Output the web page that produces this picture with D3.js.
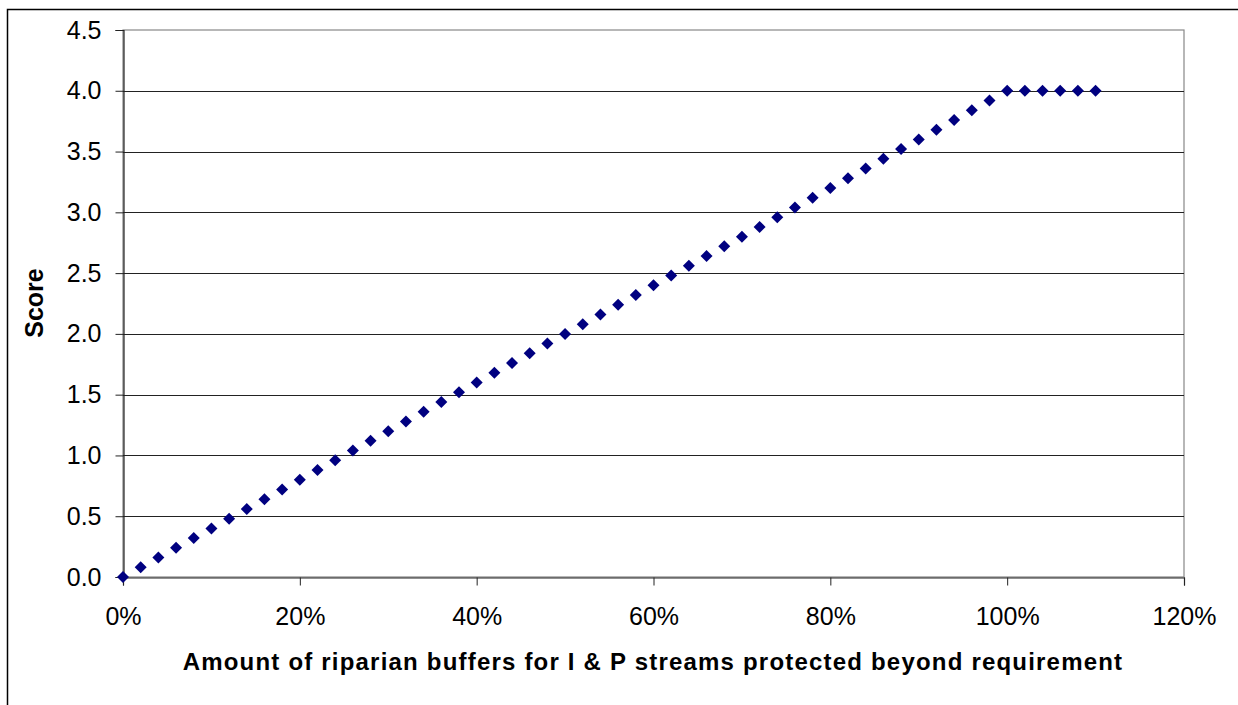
<!DOCTYPE html>
<html><head><meta charset="utf-8">
<script src="https://cdn.jsdelivr.net/npm/d3@7"></script>
<style>body{margin:0;background:#fff}svg{display:block}text{font-family:Arial,"Liberation Sans",sans-serif}</style>
</head><body><svg id="c" width="1238" height="705"></svg>
<script>
const xPct = [0,2,4,6,8,10,12,14,16,18,20,22,24,26,28,30,32,34,36,38,40,42,44,46,48,50,52,54,56,58,60,62,64,66,68,70,72,74,76,78,80,82,84,86,88,90,92,94,96,98,100,102,104,106,108,110];
const score = [0,0.08,0.16,0.24,0.32,0.40,0.48,0.56,0.64,0.72,0.80,0.88,0.96,1.04,1.12,1.20,1.28,1.36,1.44,1.52,1.60,1.68,1.76,1.84,1.92,2.00,2.08,2.16,2.24,2.32,2.40,2.48,2.56,2.64,2.72,2.80,2.88,2.96,3.04,3.12,3.20,3.28,3.36,3.44,3.52,3.60,3.68,3.76,3.84,3.92,4.00,4.00,4.00,4.00,4.00,4.00];
const yTicks = [0,0.5,1.0,1.5,2.0,2.5,3.0,3.5,4.0,4.5];
const xTicks = [0,20,40,60,80,100,120];
const xTitle = "Amount of riparian buffers for I & P streams protected beyond requirement";
const yTitle = "Score";

const svg = d3.select("#c");
const L=123, R=1184, T=30, B=577;
const x = d3.scaleLinear().domain([0,120]).range([L,R]);
const y = d3.scaleLinear().domain([0,4.5]).range([B,T]);
const FF = "Arial, 'Liberation Sans', sans-serif";

// outer border
svg.append("rect").attr("x",7.5).attr("y",9.5).attr("width",1240).attr("height",710)
  .attr("fill","none").attr("stroke","#000").attr("stroke-width",1.5);

// plot area border
svg.append("rect").attr("x",L).attr("y",T).attr("width",R-L).attr("height",B-T)
  .attr("fill","none").attr("stroke","#888").attr("stroke-width",1.2);

// gridlines
svg.append("g").selectAll("line").data(yTicks.filter(d=>d>0&&d<4.5)).join("line")
  .attr("x1",L).attr("x2",R).attr("y1",d=>Math.round(y(d))+0.5).attr("y2",d=>Math.round(y(d))+0.5)
  .attr("stroke","#222").attr("stroke-width",1);

// y axis
const ya = svg.append("g").attr("transform",`translate(${L+0.5},0)`)
  .call(d3.axisLeft(y).tickValues(yTicks).tickFormat(d3.format(".1f")).tickSize(8).tickPadding(14));
ya.select(".domain").attr("stroke","#222").attr("stroke-width",1.2);
ya.selectAll(".tick line").attr("stroke","#222");
ya.selectAll("text").attr("font-size",25).attr("fill","#000").attr("font-family",FF);

// x axis
const xa = svg.append("g").attr("transform",`translate(0,${B+0.5})`)
  .call(d3.axisBottom(x).tickValues(xTicks).tickFormat(d=>d+"%").tickSize(8).tickPadding(22));
xa.select(".domain").attr("stroke","#222").attr("stroke-width",1.2);
xa.selectAll(".tick line").attr("stroke","#222");
xa.selectAll("text").attr("font-size",25).attr("fill","#000").attr("font-family",FF);

// titles
svg.append("text").attr("x",653).attr("y",670).attr("text-anchor","middle")
  .attr("font-size",24).attr("letter-spacing",1.2).attr("font-weight","bold").text(xTitle);
svg.append("text").attr("transform","translate(43,303) rotate(-90)").attr("text-anchor","middle")
  .attr("font-size",25).attr("font-weight","bold").text(yTitle);

// markers
const s=6;
svg.append("g").selectAll("path").data(xPct.map((d,i)=>[d,score[i]])).join("path")
  .attr("transform",d=>`translate(${x(d[0])},${y(d[1])})`)
  .attr("d",`M0,${-s}L${s},0L0,${s}L${-s},0Z`)
  .attr("fill","#000080");
</script></body></html>
